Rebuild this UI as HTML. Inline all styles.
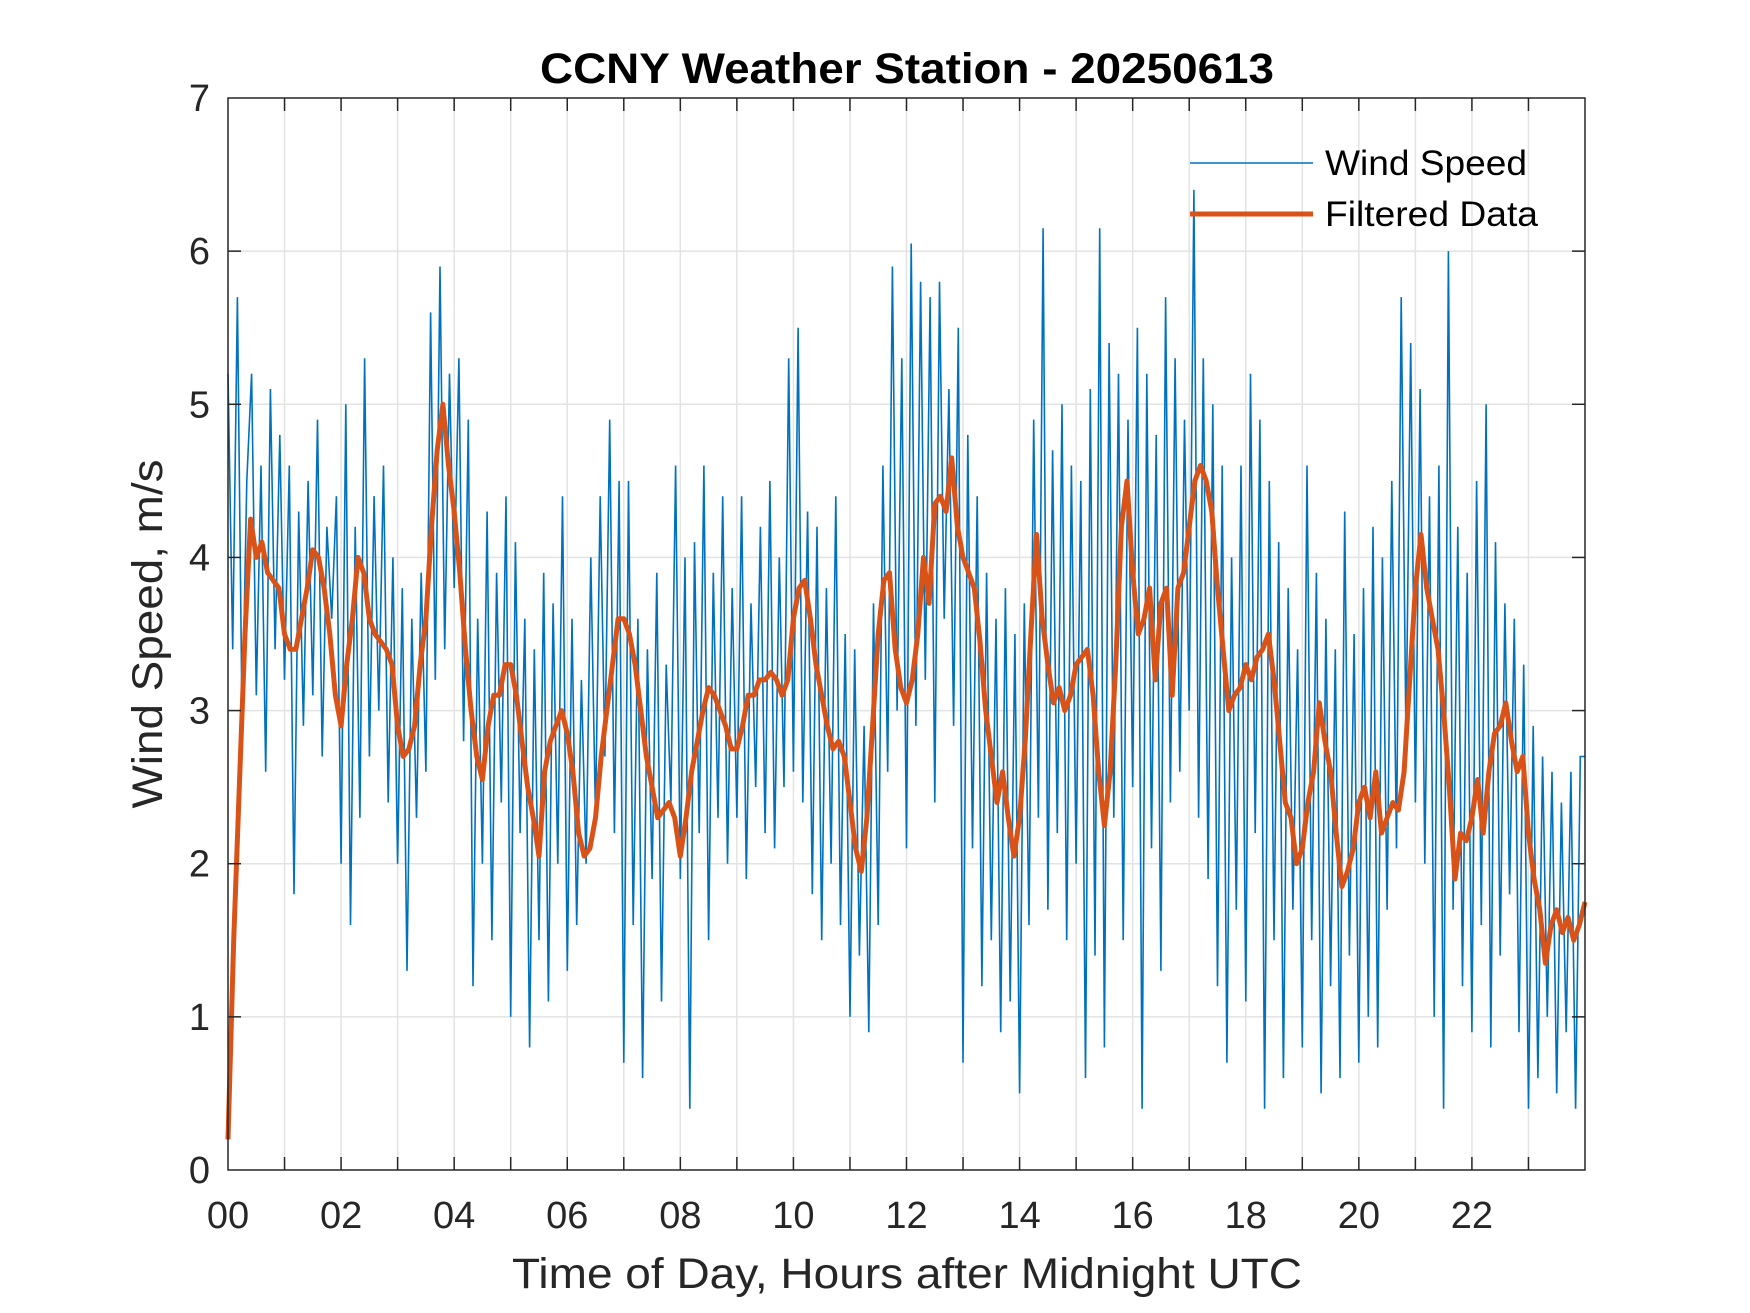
<!DOCTYPE html>
<html><head><meta charset="utf-8"><style>
html,body{margin:0;padding:0;background:#fff;}
svg{display:block;font-family:"Liberation Sans",Arial,sans-serif;}
</style></head><body>
<svg id="chart" width="1750" height="1313" viewBox="0 0 1750 1313" xmlns="http://www.w3.org/2000/svg">
<rect width="1750" height="1313" fill="#fff"/>
<g id="grid"></g>
<g id="plot"></g>
<g id="axes"></g>
<text x="907" y="83" text-anchor="middle" font-size="43" font-weight="bold" fill="#000" textLength="734" lengthAdjust="spacingAndGlyphs">CCNY Weather Station - 20250613</text>
<text x="907" y="1288" text-anchor="middle" font-size="43" fill="#262626" textLength="790" lengthAdjust="spacingAndGlyphs">Time of Day, Hours after Midnight UTC</text>
<text transform="translate(162,634) rotate(-90)" text-anchor="middle" font-size="43" fill="#262626" textLength="349" lengthAdjust="spacingAndGlyphs">Wind Speed, m/s</text>
<g>
<line x1="1190" y1="163" x2="1313" y2="163" stroke="#0072BD" stroke-width="1.5"/>
<text x="1325" y="175" font-size="35" fill="#000" textLength="202" lengthAdjust="spacingAndGlyphs">Wind Speed</text>
<line x1="1190" y1="214" x2="1313" y2="214" stroke="#D95319" stroke-width="5"/>
<text x="1325" y="226" font-size="35" fill="#000" textLength="213" lengthAdjust="spacingAndGlyphs">Filtered Data</text>
</g>
</svg>
<script>
const rawValues = [
5.2,3.4,5.7,2.9,4.5,5.2,3.1,4.6,2.6,5.1,3.4,4.8,
3.2,4.6,1.8,4.3,2.9,4.5,3.1,4.9,2.7,4.2,3.6,4.4,
2.0,5.0,1.6,4.2,2.3,5.3,2.7,4.4,3.0,4.6,2.4,4.0,
2.0,3.8,1.3,3.6,2.3,3.9,2.6,5.6,3.2,5.9,3.4,5.2,
3.8,5.3,2.8,4.9,1.2,3.6,2.0,4.3,1.5,3.9,2.4,4.4,
1.0,4.1,2.2,3.6,0.8,3.4,1.5,3.9,1.1,3.7,2.0,4.4,
1.3,3.6,1.6,3.2,2.0,4.0,2.3,4.4,2.7,4.9,2.2,4.5,
0.7,4.5,1.6,3.6,0.6,3.4,1.9,3.9,1.1,3.3,2.4,4.6,
1.9,4.0,0.4,4.1,2.2,4.6,1.5,3.9,2.3,4.4,2.0,3.8,
2.3,4.4,1.9,3.7,2.5,4.2,2.2,4.5,2.1,4.0,2.5,5.3,
2.6,5.5,2.4,4.3,1.8,4.2,1.5,3.8,2.0,4.4,1.6,3.5,
1.0,3.4,1.4,2.9,0.9,3.7,1.6,4.6,2.6,5.9,3.0,5.3,
2.1,6.05,2.9,5.8,3.2,5.7,2.4,5.8,3.6,5.1,2.9,5.5,
0.7,4.8,2.1,4.4,1.2,3.9,1.5,3.6,0.9,3.8,1.1,3.5,
0.5,3.7,1.6,4.9,2.3,6.15,1.7,4.7,2.2,5.0,1.5,4.6,
2.0,4.5,0.6,5.1,1.4,6.15,0.8,5.4,2.3,5.2,1.5,4.9,
2.5,5.5,0.4,5.2,2.1,4.8,1.3,5.7,2.4,5.3,2.6,4.9,
3.0,6.4,2.3,5.3,1.9,5.0,1.2,4.6,0.7,4.0,1.7,4.6,
1.1,5.2,2.2,4.9,0.4,4.5,1.5,4.1,0.6,3.8,1.7,3.4,
0.8,4.6,1.5,3.9,0.5,3.6,1.2,3.4,0.6,4.3,1.4,3.5,
0.7,3.8,1.0,4.2,0.8,4.0,1.7,4.5,2.1,5.7,2.8,5.4,
2.4,5.1,2.0,4.4,1.0,4.6,0.4,6.0,1.7,4.2,1.2,3.9,
0.9,4.5,1.6,5.0,0.8,4.1,1.4,3.7,1.8,3.6,0.9,3.3,
0.4,2.9,0.6,2.7,1.0,2.6,0.5,2.4,0.9,2.6,0.4,2.7,
2.7];
const filtTimes = [0,0.1,0.2,0.3,0.4,0.5,0.6,0.7,0.8,0.9,1.0,1.1,1.2,1.3,1.4,1.5,1.6,1.7,1.8,1.9,2.0,2.1,2.2,2.3,2.4,2.5,2.6,2.7,2.8,2.9,3.0,3.1,3.2,3.3,3.4,3.5,3.6,3.7,3.8,3.9,4.0,4.1,4.2,4.3,4.4,4.5,4.6,4.7,4.8,4.9,5.0,5.1,5.2,5.3,5.4,5.5,5.6,5.7,5.8,5.9,6.0,6.1,6.2,6.3,6.4,6.5,6.6,6.7,6.8,6.9,7.0,7.1,7.2,7.3,7.4,7.5,7.6,7.7,7.8,7.9,8.0,8.1,8.2,8.3,8.4,8.5,8.6,8.7,8.8,8.9,9.0,9.1,9.2,9.3,9.4,9.5,9.6,9.7,9.8,9.9,10.0,10.1,10.2,10.3,10.4,10.5,10.6,10.7,10.8,10.9,11.0,11.1,11.2,11.3,11.4,11.5,11.6,11.7,11.8,11.9,12.0,12.1,12.2,12.3,12.4,12.5,12.6,12.7,12.8,12.9,13.0,13.1,13.2,13.3,13.4,13.5,13.6,13.7,13.8,13.9,14.0,14.1,14.2,14.3,14.4,14.5,14.6,14.7,14.8,14.9,15.0,15.1,15.2,15.3,15.4,15.5,15.6,15.7,15.8,15.9,16.0,16.1,16.2,16.3,16.4,16.5,16.6,16.7,16.8,16.9,17.0,17.1,17.2,17.3,17.4,17.5,17.6,17.7,17.8,17.9,18.0,18.1,18.2,18.3,18.4,18.5,18.6,18.7,18.8,18.9,19.0,19.1,19.2,19.3,19.4,19.5,19.6,19.7,19.8,19.9,20.0,20.1,20.2,20.3,20.4,20.5,20.6,20.7,20.8,20.9,21.0,21.1,21.2,21.3,21.4,21.5,21.6,21.7,21.8,21.9,22.0,22.1,22.2,22.3,22.4,22.5,22.6,22.7,22.8,22.9,23.0,23.1,23.2,23.3,23.4,23.5,23.6,23.7,23.8,23.9,24.0];
const filtValues = [0.2,1.5,2.5,3.5,4.25,4.0,4.1,3.9,3.85,3.8,3.5,3.4,3.4,3.6,3.8,4.05,4.0,3.8,3.5,3.1,2.9,3.3,3.6,4.0,3.9,3.6,3.5,3.45,3.4,3.3,2.9,2.7,2.75,2.9,3.3,3.6,4.2,4.7,5.0,4.6,4.3,3.9,3.4,3.0,2.7,2.55,2.9,3.1,3.1,3.3,3.3,3.1,2.8,2.5,2.3,2.05,2.6,2.8,2.9,3.0,2.85,2.6,2.2,2.05,2.1,2.3,2.7,3.0,3.3,3.6,3.6,3.5,3.3,3.0,2.7,2.5,2.3,2.35,2.4,2.3,2.05,2.3,2.6,2.8,3.0,3.15,3.1,3.0,2.9,2.75,2.75,2.9,3.1,3.1,3.2,3.2,3.25,3.2,3.1,3.2,3.6,3.8,3.85,3.6,3.3,3.1,2.9,2.75,2.8,2.7,2.4,2.1,1.95,2.3,2.9,3.5,3.85,3.9,3.4,3.15,3.05,3.2,3.5,4.0,3.7,4.35,4.4,4.3,4.65,4.2,4.0,3.9,3.8,3.45,3.0,2.7,2.4,2.6,2.3,2.05,2.3,2.8,3.5,4.15,3.6,3.3,3.05,3.15,3.0,3.1,3.3,3.35,3.4,3.1,2.6,2.25,2.6,3.3,4.2,4.5,3.9,3.5,3.6,3.8,3.2,3.7,3.8,3.1,3.8,3.9,4.2,4.5,4.6,4.5,4.3,3.8,3.4,3.0,3.1,3.15,3.3,3.2,3.35,3.4,3.5,3.2,2.8,2.4,2.3,2.0,2.1,2.4,2.6,3.05,2.8,2.6,2.2,1.85,1.95,2.1,2.4,2.5,2.3,2.6,2.2,2.3,2.4,2.35,2.6,3.2,3.8,4.15,3.8,3.6,3.4,3.0,2.5,1.9,2.2,2.15,2.3,2.55,2.2,2.6,2.85,2.9,3.05,2.8,2.6,2.7,2.2,1.9,1.7,1.35,1.6,1.7,1.55,1.65,1.5,1.6,1.75];
const xTickLabels = ['00','02','04','06','08','10','12','14','16','18','20','22'];
const yTickLabels = ['0','1','2','3','4','5','6','7'];

const L=228,R=1585,T=98,B=1170;
const xS = h => L + (h/24)*(R-L);
const yS = v => B - (v/7)*(B-T);
const NS='http://www.w3.org/2000/svg';
function mk(tag, parent){const e=document.createElementNS(NS,tag);parent.appendChild(e);return e;}
const grid=document.getElementById('grid'), plot=document.getElementById('plot'), axes=document.getElementById('axes');

for(let h=1;h<24;h++){
  const l=mk('line',grid);
  
  
  l.setAttribute('x1',xS(h));l.setAttribute('x2',xS(h));l.setAttribute('y1',T);l.setAttribute('y2',B);
  l.setAttribute('stroke','#e3e3e3');l.setAttribute('stroke-width','1.5');
}
for(let v=1;v<7;v++){
  const l=mk('line',grid);
  
  
  l.setAttribute('x1',L);l.setAttribute('x2',R);l.setAttribute('y1',yS(v));l.setAttribute('y2',yS(v));
  l.setAttribute('stroke','#e3e3e3');l.setAttribute('stroke-width','1.5');
}
let d='';
rawValues.forEach((v,i)=>{d+=(i?'L':'M')+xS(i/12).toFixed(1)+','+yS(v).toFixed(1);});
const raw=mk('path',plot);


raw.setAttribute('d',d);raw.setAttribute('fill','none');raw.setAttribute('stroke','#0072BD');raw.setAttribute('stroke-width','1.6');
d='';
filtValues.forEach((v,i)=>{d+=(i?'L':'M')+xS(filtTimes[i]).toFixed(1)+','+yS(v).toFixed(1);});
const f=mk('path',plot);


f.setAttribute('d',d);f.setAttribute('fill','none');f.setAttribute('stroke','#D95319');f.setAttribute('stroke-width','5');f.setAttribute('stroke-linejoin','round');

const box=mk('rect',axes);


box.setAttribute('x',L);box.setAttribute('y',T);box.setAttribute('width',R-L);box.setAttribute('height',B-T);
box.setAttribute('fill','none');box.setAttribute('stroke','#262626');box.setAttribute('stroke-width','1.5');
for(let h=1;h<24;h++){
  [[B,B-13],[T,T+13]].forEach(p=>{
    const t=mk('line',axes);
    
    
    t.setAttribute('x1',xS(h));t.setAttribute('x2',xS(h));t.setAttribute('y1',p[0]);t.setAttribute('y2',p[1]);
    t.setAttribute('stroke','#262626');t.setAttribute('stroke-width','1.5');
  });
}
for(let v=1;v<7;v++){
  [[L,L+13],[R,R-13]].forEach(p=>{
    const t=mk('line',axes);
    
    
    t.setAttribute('x1',p[0]);t.setAttribute('x2',p[1]);t.setAttribute('y1',yS(v));t.setAttribute('y2',yS(v));
    t.setAttribute('stroke','#262626');t.setAttribute('stroke-width','1.5');
  });
}
xTickLabels.forEach((s,i)=>{
  const t=mk('text',axes);
  
  
  t.setAttribute('x',xS(i*2));t.setAttribute('y',B+58);t.setAttribute('text-anchor','middle');
  t.setAttribute('font-size','38');t.setAttribute('fill','#262626');t.textContent=s;
});
yTickLabels.forEach((s,i)=>{
  const t=mk('text',axes);
  
  
  t.setAttribute('x',L-18);t.setAttribute('y',yS(i)+13);t.setAttribute('text-anchor','end');
  t.setAttribute('font-size','38');t.setAttribute('fill','#262626');t.textContent=s;
});
</script>
</body></html>
